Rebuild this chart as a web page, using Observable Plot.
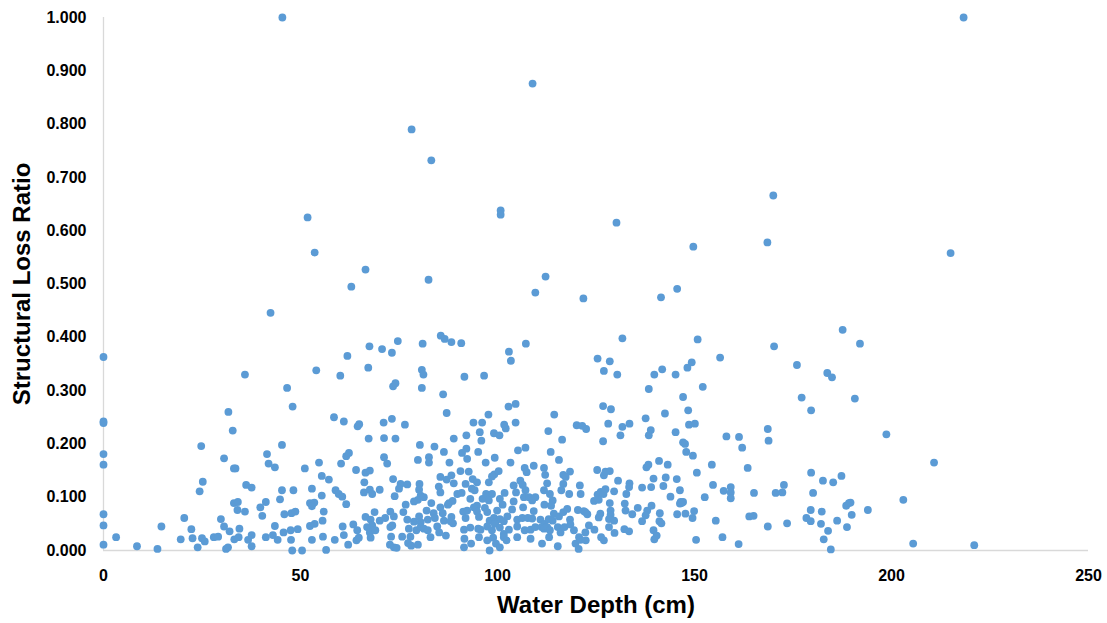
<!DOCTYPE html>
<html>
<head>
<meta charset="utf-8">
<script src="https://cdn.jsdelivr.net/npm/d3@7"></script>
<script src="https://cdn.jsdelivr.net/npm/@observablehq/plot@0.6"></script>
<style>
  html, body { margin: 0; padding: 0; background: #fff; }
  #chart svg { display: block; }
</style>
</head>
<body>
<div id="chart"></div>
<script>
// [water depth (cm), structural loss ratio]
const upperPoints = [
  [45.4,1.000],[218.3,1.000],[108.9,0.876],[78.2,0.790],[83.2,0.732],[170.0,0.666],[100.8,0.638],[100.8,0.630],
  [51.8,0.625],[130.2,0.615],[168.5,0.578],[149.7,0.570],[53.6,0.559],[215.0,0.558],[66.5,0.527],[112.2,0.514],
  [82.5,0.508],[62.9,0.495],[145.6,0.491],[109.6,0.484],[141.5,0.475],[121.8,0.473],[42.4,0.446],[187.6,0.414],
  [131.7,0.398],[150.8,0.396],[170.2,0.383],[192.0,0.388]
];
const leftPoints = [
  [0,0.363],[35.9,0.330],[54.0,0.338],[61.9,0.365],[60.1,0.328],[46.6,0.305],[48.0,0.270],[31.7,0.260],[32.8,0.225],
  [58.5,0.250],[61.0,0.242],[0,0.239],[0,0.242],[24.8,0.196],[45.3,0.198],
  [0,0.181],[0,0.161],[30.6,0.173],[33.5,0.154],[33.1,0.154],[41.5,0.181],[41.9,0.163],[43.5,0.156],[51.1,0.154],
  [54.7,0.165],[60.3,0.163],[61.6,0.177],[62.3,0.183],[55.4,0.140],[57.2,0.133],[25.2,0.129],[24.4,0.111],[36.2,0.123],
  [37.6,0.118],[45.3,0.113],[48.2,0.113],[52.9,0.116],[58.9,0.113],[59.7,0.106],[60.6,0.101],[55.4,0.103],[44.8,0.096],
  [41.2,0.091],[33.1,0.089],[34.1,0.091],[34.0,0.076],[35.9,0.073],[39.8,0.081],[40.3,0.065],[52.4,0.089],[53.5,0.090],
  [52.9,0.083],[61.6,0.087],[55.9,0.073],[45.9,0.068],[47.7,0.070],[48.7,0.073],[0,0.068],[0,0.047],[0,0.011],
  [3.2,0.025],[8.5,0.008],[13.7,0.003],[14.7,0.045],[19.6,0.021],[20.5,0.061],[22.3,0.040],[22.6,0.023],[23.9,0.006],
  [25.0,0.023],[25.7,0.017],[28.0,0.025],[29.1,0.026],[29.8,0.059],[30.6,0.045],[32.0,0.036],[31.1,0.003],[31.6,0.006],
  [33.2,0.021],[34.3,0.025],[34.5,0.041],[36.7,0.020],[37.6,0.029],[37.6,0.008],[41.2,0.025],[43.0,0.029],[43.5,0.046],
  [44.2,0.020],[45.7,0.034],[47.5,0.038],[47.6,0.020],[47.9,0.000],[49.3,0.040],[50.4,0.000],[52.9,0.020],[52.4,0.046],
  [53.6,0.050],[55.6,0.056],[55.7,0.026],[56.5,0.001],[58.7,0.020],[60.7,0.045],[61.0,0.029],[62.1,0.011]
];
const middleUpperPoints = [
  [85.6,0.403],[86.6,0.397],[88.3,0.391],[90.8,0.389],[81.0,0.388],[74.7,0.393],[70.7,0.378],[73.2,0.371],[67.5,0.383],
  [67.2,0.343],[102.9,0.373],[103.4,0.356],[107.2,0.388],[125.4,0.360],[80.8,0.339],[81.2,0.330],[80.8,0.305],[73.5,0.308],
  [74.1,0.314],[91.6,0.326],[96.6,0.328],[86.2,0.293],[87.1,0.258],[102.8,0.270],[104.6,0.275],[97.7,0.255],[114.4,0.255],
  [64.5,0.233],[64.9,0.237],[71.1,0.240],[73.2,0.247],[76.5,0.236],[93.9,0.240],[96.1,0.240],[101.7,0.236],[102.1,0.229],
  [104.6,0.240],[120.1,0.235],[121.5,0.234],[122.5,0.228]
];
const middleDensePoints = [
  [67.3,0.210],[71.2,0.211],[74.1,0.210],[88.9,0.210],[92.1,0.216],[95.5,0.222],[99.1,0.220],[100.5,0.216],[112.9,0.224],
  [116.4,0.208],[80.3,0.198],[84.0,0.195],[95.9,0.206],[71.2,0.175],[72.0,0.163],[79.8,0.170],[82.6,0.175],[82.6,0.165],
  [86.4,0.185],[87.8,0.165],[91.0,0.183],[92.1,0.191],[92.3,0.172],[95.1,0.185],[97.0,0.165],[99.3,0.174],[103.3,0.165],
  [105.2,0.188],[107.1,0.193],[113.5,0.185],[115.6,0.170],
  [64.1,0.151],[66.5,0.146],[67.6,0.150],[73.5,0.134],[90.6,0.149],[92.7,0.148],[99.2,0.143],[100.3,0.149],[106.9,0.155],
  [107.4,0.147],[109.2,0.159],[111.8,0.155],[112.1,0.142],[116.7,0.142],[118.4,0.148],[117.3,0.138],[66.2,0.128],
  [75.4,0.125],[77.1,0.124],[80.2,0.125],[85.5,0.138],[87.1,0.133],[88.3,0.141],[88.9,0.126],[93.7,0.134],[94.8,0.128],
  [97.8,0.128],[98.6,0.139],[105.8,0.131],[106.4,0.123],[112.6,0.126],[116.7,0.125],[120.9,0.122],
  [66.1,0.109],[67.6,0.114],[68.2,0.106],[70.1,0.114],[73.9,0.102],[75.0,0.116],[80.1,0.114],[80.5,0.103],[79.8,0.095],
  [78.8,0.092],[81.3,0.100],[83.2,0.089],[85.1,0.120],[85.5,0.109],[87.7,0.089],[88.6,0.093],[89.8,0.106],[90.9,0.108],
  [91.9,0.125],[93.5,0.116],[94.2,0.113],[93.1,0.097],[94.8,0.084],[96.2,0.097],[97.1,0.106],[98.6,0.106],[97.8,0.094],
  [100.6,0.097],[101.8,0.108],[101.3,0.086],[104.1,0.122],[104.7,0.109],[107.1,0.113],[106.7,0.100],[108.0,0.100],
  [108.8,0.094],[109.6,0.100],[111.8,0.113],[113.3,0.106],[114.0,0.094],[116.2,0.113],[118.2,0.106],[121.1,0.106],
  [124.5,0.093],[76.7,0.086],[104.1,0.092],[111.9,0.086],[113.6,0.084]
];
const middleLowPoints = [
  [66.5,0.063],[67.8,0.058],[68.8,0.072],[68.2,0.047],[70.1,0.056],[71.5,0.061],[72.8,0.073],[73.7,0.064],[73.3,0.047],
  [76.1,0.072],[77.1,0.058],[78.8,0.054],[80.1,0.064],[80.5,0.053],[82.0,0.075],[82.3,0.058],[83.8,0.070],[84.1,0.061],
  [85.5,0.081],[86.1,0.070],[86.4,0.056],[87.4,0.086],[88.3,0.063],[88.7,0.051],[91.3,0.073],[92.3,0.075],[91.9,0.061],
  [94.0,0.081],[94.8,0.073],[95.3,0.063],[96.8,0.080],[97.4,0.072],[98.0,0.056],[99.1,0.061],[99.5,0.053],[99.9,0.075],
  [100.6,0.059],[101.6,0.055],[102.5,0.064],[103.7,0.077],[105.0,0.058],[106.3,0.061],[106.5,0.081],[107.7,0.061],
  [108.8,0.060],[109.2,0.074],[110.9,0.058],[111.9,0.050],[113.0,0.059],[114.0,0.056],[114.3,0.069],[115.6,0.064],
  [116.7,0.072],[117.7,0.078],[118.4,0.058],[120.4,0.076],[121.9,0.074],[122.8,0.068],[126.1,0.069],[122.3,0.072],
  [63.4,0.049],[64.4,0.038],[66.9,0.044],[67.6,0.034],[69.0,0.038],[67.8,0.024],[72.8,0.044],[73.0,0.026],[75.8,0.026],
  [77.5,0.041],[77.9,0.026],[79.4,0.038],[80.5,0.044],[81.3,0.041],[82.3,0.038],[83.0,0.025],[84.7,0.045],[85.2,0.034],
  [86.9,0.028],[88.1,0.055],[91.5,0.039],[93.1,0.043],[95.1,0.041],[95.7,0.039],[97.4,0.045],[98.6,0.038],[99.3,0.050],
  [100.6,0.043],[101.6,0.031],[102.9,0.039],[105.0,0.045],[106.9,0.038],[108.4,0.039],[109.6,0.044],[111.2,0.044],
  [111.8,0.041],[112.6,0.044],[113.3,0.038],[115.3,0.044],[116.0,0.034],[117.0,0.044],[118.5,0.049],[119.4,0.038],
  [120.7,0.025],[122.3,0.034],[123.2,0.047],[124.6,0.039],
  [64.2,0.019],[64.8,0.024],[72.7,0.011],[73.7,0.006],[74.4,0.005],[77.3,0.014],[78.1,0.009],[79.8,0.011],[91.6,0.022],
  [91.5,0.006],[93.3,0.013],[95.3,0.025],[97.4,0.019],[98.0,0.000],[98.9,0.024],[99.6,0.013],[100.6,0.006],[101.6,0.025],
  [102.3,0.019],[105.0,0.025],[108.4,0.022],[111.3,0.013],[113.1,0.025],[115.3,0.008],[119.8,0.013],[120.6,0.003],
  [121.1,0.020],[122.4,0.019]
];
const rightMidPoints = [
  [128.5,0.355],[127.0,0.337],[130.4,0.330],[156.5,0.362],[176.0,0.348],[183.7,0.333],[184.9,0.325],[139.8,0.330],[141.8,0.340],
  [145.2,0.330],[148.2,0.343],[149.3,0.353],[138.4,0.303],[152.1,0.307],[147.1,0.288],[177.2,0.287],[179.6,0.263],[126.8,0.271],
  [128.8,0.265],[148.4,0.263],[142.5,0.257],[137.6,0.248],[128.1,0.238],[131.7,0.232],[133.5,0.238],[131.2,0.216],[138.9,0.226],
  [138.4,0.216],[145.2,0.222],[148.6,0.236],[150.1,0.238],[126.8,0.205],[147.1,0.203],[147.6,0.200],[147.9,0.185],[149.6,0.178],
  [158.1,0.214],[161.3,0.213],[162.1,0.193],[168.6,0.228],[168.8,0.206],[141.0,0.168],[143.2,0.161],[137.8,0.156],[138.3,0.161],
  [154.4,0.161],[163.5,0.155],[125.3,0.151],[127.0,0.141],[127.4,0.148],[128.5,0.149],[130.6,0.131],[133.5,0.126],[133.4,0.119],
  [136.7,0.118],[139.0,0.119],[139.6,0.135],[142.7,0.137],[142.1,0.121],[145.5,0.134],[146.3,0.113],[150.6,0.146],[154.7,0.123],
  [157.4,0.112],[159.2,0.119],[159.2,0.109],[159.2,0.098],[165.1,0.108],[170.6,0.108],[172.3,0.109],[172.7,0.123],[179.6,0.146],
  [182.6,0.131],[185.2,0.128],[187.3,0.140],[180.1,0.108],[125.4,0.105],[126.2,0.110],[126.9,0.106],[127.4,0.115],[125.7,0.095],
  [129.6,0.111],[132.7,0.106],[143.9,0.101],[146.5,0.091],[147.1,0.091],[146.3,0.088],[152.6,0.100],[128.5,0.089],[128.7,0.075],
  [128.7,0.067],[128.3,0.059],[125.7,0.062],[132.3,0.088],[132.5,0.075],[134.2,0.068],[135.6,0.080],[136.7,0.055],[138.0,0.075],
  [139.1,0.084],[137.6,0.066],[129.6,0.056],[128.3,0.044],[129.7,0.033],[132.2,0.040],[133.4,0.036],[126.3,0.025],[127.0,0.019],
  [139.6,0.038],[140.4,0.028],[139.8,0.021],[141.2,0.070],[141.1,0.055],[141.6,0.051],[145.6,0.068],[147.7,0.069],[146.7,0.089],
  [149.9,0.074],[149.5,0.061],[150.4,0.020],[155.4,0.056],[157.1,0.025],[161.2,0.012],[163.9,0.064],[165.0,0.065],[168.6,0.045],
  [173.5,0.051],[178.4,0.061],[179.5,0.076],[179.5,0.055],[182.3,0.073],[182.1,0.050],[183.9,0.037],[182.8,0.021],[184.6,0.002],
  [186.2,0.056],[188.7,0.044],[188.5,0.084],[189.2,0.089]
];
const rightPoints = [
  [190.7,0.285],[198.7,0.218],[210.8,0.165],[203.0,0.095],[194.0,0.076],[189.6,0.090],[189.9,0.067],[205.5,0.013],[221.0,0.010]
];

const xTicks = [0, 50, 100, 150, 200, 250];
const yTicks = [0, 0.1, 0.2, 0.3, 0.4, 0.5, 0.6, 0.7, 0.8, 0.9, 1.0];
const xTitle = "Water Depth (cm)";
const yTitle = "Structural Loss Ratio";

const data = [...upperPoints, ...leftPoints, ...middleUpperPoints, ...middleDensePoints, ...middleLowPoints, ...rightMidPoints, ...rightPoints]
  .map(([depth, ratio]) => ({depth, ratio}));

const font = "'Liberation Sans', Arial, sans-serif";

const chart = Plot.plot({
  width: 1107,
  height: 623,
  marginLeft: 103,
  marginRight: 19,
  marginTop: 17,
  marginBottom: 73,
  style: {fontFamily: font, color: "#000", background: "#fff"},
  x: {domain: [0, 250]},
  y: {domain: [0, 1]},
  marks: [
    Plot.ruleY([0], {stroke: "#d9d9d9", strokeWidth: 1.3}),
    Plot.ruleX([0], {stroke: "#d9d9d9", strokeWidth: 1.3}),
    Plot.axisX({ticks: xTicks, tickSize: 0, tickPadding: 19, label: null, fontSize: 16, fontWeight: "bold", tickFormat: d3.format("d")}),
    Plot.axisY({ticks: yTicks, tickSize: 0, tickPadding: 17, label: null, fontSize: 16, fontWeight: "bold", tickFormat: d3.format(".3f")}),
    Plot.dot(data, {x: "depth", y: "ratio", r: 3.9, fill: "#5B9BD5", stroke: "none"}),
    Plot.text([xTitle], {text: d => d, frameAnchor: "bottom", dy: 62, fontSize: 24, fontWeight: "bold", fill: "#000"}),
    Plot.text([yTitle], {text: d => d, frameAnchor: "left", textAnchor: "middle", dx: -81, rotate: -90, fontSize: 24, fontWeight: "bold", fill: "#000"})
  ]
});
document.getElementById("chart").appendChild(chart);
</script>
</body>
</html>
